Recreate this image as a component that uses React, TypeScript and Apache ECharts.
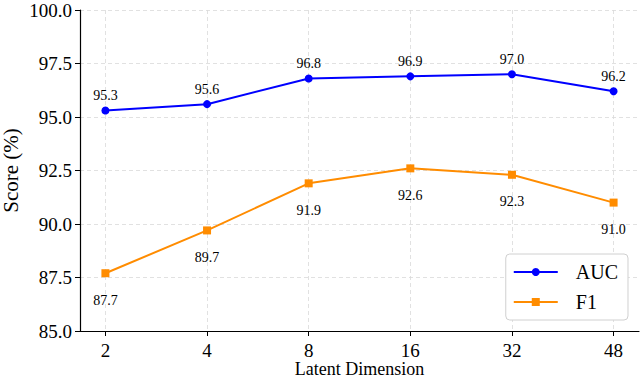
import React, { useEffect, useRef } from "react";
import * as echarts from "echarts";

const categories = ["2", "4", "8", "16", "32", "48"];
const aucValues = [95.3, 95.6, 96.8, 96.9, 97.0, 96.2];
const f1Values = [87.7, 89.7, 91.9, 92.6, 92.3, 91.0];

const FONT = "'Liberation Serif', 'Times New Roman', serif";

export default function App() {
  const ref = useRef<HTMLDivElement>(null);
  useEffect(() => {
    if (!ref.current) return;
    const chart = echarts.init(ref.current, null, { renderer: "svg" });
    const idx = categories.map((_, i) => i);
    const gridLine = { show: true, lineStyle: { color: "#d9d9d9", type: [4, 3], width: 0.8 } };
    chart.setOption({
      animation: false,
      textStyle: { fontFamily: FONT },
      grid: { left: 80, right: 1, top: 10, bottom: 47, containLabel: false, outerBoundsMode: "none" },
      xAxis: {
        type: "value",
        min: -0.25,
        max: 5.25,
        name: "Latent Dimension",
        nameLocation: "middle",
        nameGap: 29,
        nameMoveOverlap: false,
        nameTextStyle: { fontFamily: FONT, fontSize: 18, color: "#000" },
        axisLine: { show: true, onZero: false, lineStyle: { color: "#000", width: 1.2 } },
        axisTick: { show: true, customValues: idx, length: 5, lineStyle: { color: "#000" } },
        axisLabel: {
          customValues: idx,
          formatter: (v: number) => categories[Math.round(v)] ?? "",
          fontFamily: FONT,
          fontSize: 19,
          color: "#000",
          margin: 10,
        },
        splitLine: gridLine,
      },
      yAxis: {
        type: "value",
        min: 85,
        max: 100,
        interval: 2.5,
        name: "Score (%)",
        nameLocation: "middle",
        nameGap: 59,
        nameMoveOverlap: false,
        nameTextStyle: { fontFamily: FONT, fontSize: 21, color: "#000" },
        axisLine: { show: true, onZero: false, lineStyle: { color: "#000", width: 1.2 } },
        axisTick: { show: true, length: 5, lineStyle: { color: "#000" } },
        axisLabel: {
          formatter: (v: number) => v.toFixed(1),
          fontFamily: FONT,
          fontSize: 19,
          color: "#000",
          margin: 8,
        },
        splitLine: gridLine,
      },
      legend: {
        orient: "vertical",
        right: 12,
        bottom: 58,
        itemWidth: 44,
        itemHeight: 10,
        itemGap: 10,
        padding: [8, 10, 8, 7],
        backgroundColor: "#fff",
        borderColor: "#d0d0d0",
        borderWidth: 1,
        borderRadius: 4,
        textStyle: { fontFamily: FONT, fontSize: 20, color: "#000", padding: [0, 0, 0, 13] },
        data: ["AUC", "F1"],
      },
      series: [
        {
          name: "AUC",
          type: "line",
          data: aucValues.map((v, i) => [i, v]),
          symbol: "circle",
          symbolSize: 8,
          color: "#0000ff",
          lineStyle: { width: 2, color: "#0000ff" },
          itemStyle: { color: "#0000ff" },
          label: {
            show: true,
            position: "top",
            distance: 4,
            formatter: (p: any) => p.value[1].toFixed(1),
            fontFamily: FONT,
            fontSize: 14,
            color: "#000",
          },
        },
        {
          name: "F1",
          type: "line",
          data: f1Values.map((v, i) => [i, v]),
          symbol: "rect",
          symbolSize: 8,
          color: "#ff8c00",
          lineStyle: { width: 2, color: "#ff8c00" },
          itemStyle: { color: "#ff8c00" },
          label: {
            show: true,
            position: "bottom",
            distance: 16,
            formatter: (p: any) => p.value[1].toFixed(1),
            fontFamily: FONT,
            fontSize: 14,
            color: "#000",
          },
        },
      ],
    });
    return () => chart.dispose();
  }, []);
  return <div ref={ref} style={{ width: 640, height: 378, position: "absolute", left: 0, top: 0 }} />;
}
